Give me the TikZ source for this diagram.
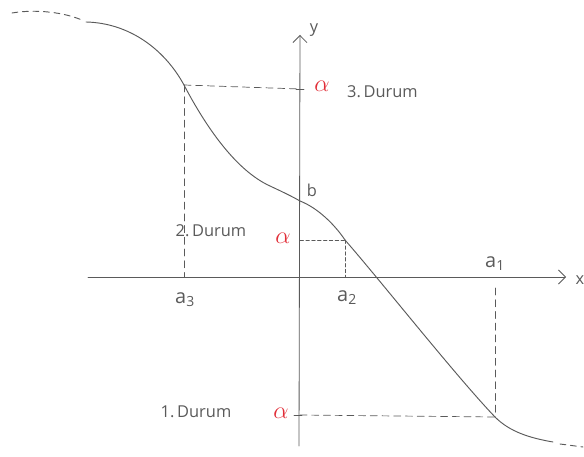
\documentclass[tikz,border=0pt]{standalone}
\usepackage{fontspec}
\setmainfont{Open Sans}
\usepackage{tikz}
\usetikzlibrary{calc, arrows.meta}
\usepackage{xcolor}
\definecolor{pencil}{RGB}{90,90,90}
\definecolor{redpen}{RGB}{225,45,55}

\tikzset{
  guide/.style={pencil, dashed, dash pattern=on 6pt off 4pt, line width=0.6pt},
  lbl/.style={pencil, font=\fontsize{14}{16}\selectfont},
  alf/.style={redpen, font=\fontsize{22}{24}\selectfont},
}

\begin{document}
\begin{tikzpicture}[x=0.03cm, y=-0.03cm, line cap=round]
\useasboundingbox (0,0) rectangle (584,457);
% Coordinates
\coordinate (Xl) at (88,277);
\coordinate (Xr) at (566,277);
\coordinate (Yb) at (299,446);
\coordinate (Yt) at (300,35);
\coordinate (P3) at (184,85);   % point for 3. Durum
\coordinate (B) at (300,201);   % y-intercept b
\coordinate (P2) at (345,240);  % point for 2. Durum
\coordinate (P1) at (495,417);  % point for 1. Durum
\coordinate (A3) at (184,277);
\coordinate (A2) at (345,277);
\coordinate (A1) at (495,288);
\coordinate (Y3) at (300,89);
\coordinate (Y2) at (300,240);
\coordinate (Y1) at (300,415);
% Axes
\draw[pencil, line width=0.7pt, -{Straight Barb[length=6pt,width=12pt]}] (Xl) -- (Xr);
\draw[pencil, line width=0.7pt, -{Straight Barb[length=6pt,width=12pt]}] (Yb) -- (Yt);
% Curve (dashed ends, solid middle)
\draw[pencil, line width=0.8pt, dashed, dash pattern=on 5pt off 4pt]
  (12,13) .. controls (35,9) and (65,12) .. (84,21);
\draw[pencil, line width=0.8pt]
  (86,22) .. controls (130,23) and (165,50) .. (P3)
  .. controls (205,125) and (235,170) .. (270,186)
  .. controls (285,193) and (293,197) .. (B)
  .. controls (318,208) and (335,225) .. (P2)
  .. controls (380,280) and (455,375) .. (P1)
  .. controls (510,432) and (530,438) .. (553,442);
\draw[pencil, line width=0.8pt, dashed, dash pattern=on 5pt off 4pt]
  (560,444) -- (583,447);
% Guide lines
\draw[guide] (P3) -- (Y3);
\draw[guide] (P3) -- (A3);
\draw[guide, dash pattern=on 3pt off 2pt] (Y2) -- (P2);
\draw[guide, dash pattern=on 3pt off 2pt] (P2) -- (A2);
\draw[guide] (Y1) -- (P1);
\draw[guide] (A1) -- (P1);
% Ticks on y axis
\draw[pencil, line width=0.7pt] ($(Y3)+(-4,0)$) -- ($(Y3)+(4,0)$);
\draw[pencil, line width=0.7pt] ($(Y1)+(-6,0)$) -- ($(Y1)+(2,0)$);
% Labels
\node[lbl] (ylbl) at (314,30) {y};
\node[lbl] (xlbl) at (580,280) {x};
\node[lbl] (blbl) at (312,190) {b};
\node[lbl, font=\fontsize{17}{18}\selectfont] (a3lbl) at (185,300) {a\textsubscript{3}};
\node[lbl, font=\fontsize{17}{18}\selectfont] (a2lbl) at (347,298) {a\textsubscript{2}};
\node[lbl, font=\fontsize{17}{18}\selectfont] (a1lbl) at (495,264) {a\textsubscript{1}};
\node[alf] (al3) at (322,86) {$\alpha$};
\node[alf] (al2) at (283,238) {$\alpha$};
\node[alf] (al1) at (281,413) {$\alpha$};
\node[lbl, anchor=west] (d3) at (343,92) {3.\,Durum};
\node[lbl] (d2) at (211,231) {2.\,Durum};
\node[lbl] (d1) at (196,412) {1.\,Durum};
\end{tikzpicture}
\end{document}
